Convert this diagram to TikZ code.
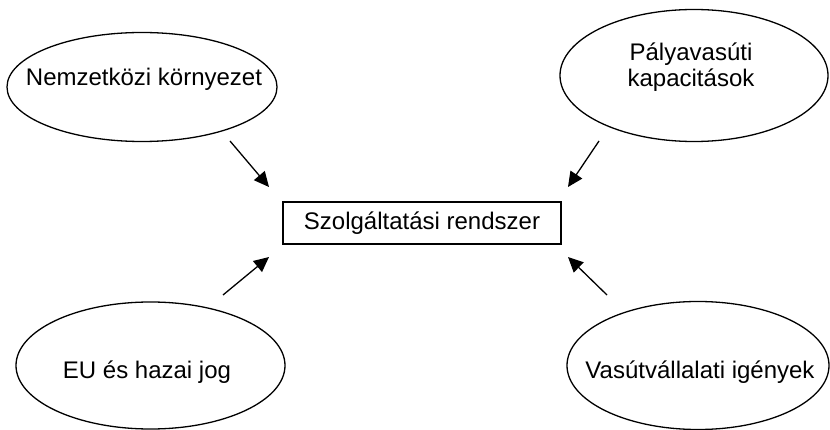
\documentclass[tikz,border=0pt]{standalone}
\usepackage{fontspec}
\setmainfont{Liberation Sans}
\usetikzlibrary{shapes.geometric,arrows.meta}

\begin{document}
\begin{tikzpicture}[x=1pt,y=-1pt,
  factor/.style={draw=black,line width=1.3pt,ellipse,inner sep=0pt},
  lbl/.style={font=\fontsize{24}{26}\selectfont,inner sep=0pt,anchor=base,align=center},
  central/.style={draw=black,line width=2pt,rectangle,inner sep=0pt,
    minimum width=278pt,minimum height=42pt,font=\fontsize{24}{26}\selectfont},
  influence/.style={line width=1.3pt,-{Triangle[length=15pt,width=14pt]}}]
  \useasboundingbox (0,0) rectangle (830,430);

  % outer factors
  \node[factor,minimum width=270pt,minimum height=109pt] (nk) at (142,87) {};
  \node[factor,minimum width=268pt,minimum height=132pt] (pk) at (694,75.5) {};
  \node[factor,minimum width=269pt,minimum height=127pt] (eu) at (150.5,365.5) {};
  \node[factor,minimum width=262pt,minimum height=128pt] (vi) at (698,365.5) {};

  % labels (base anchor of a multi-line label is its last line)
  \node[lbl] (nkt) at (144,86) {Nemzetközi környezet};
  \node[lbl] (pkt) at (691,87) {Pályavasúti\\kapacitások};
  \node[lbl] (eut) at (147,378) {EU és hazai jog};
  \node[lbl] (vit) at (700,378) {Vasútvállalati igények};

  % central system
  \node[central] (sr) at (422,223) {Szolgáltatási rendszer};

  % arrow ends
  \coordinate (a1) at (230,141);  \coordinate (b1) at (269,187);
  \coordinate (a2) at (599,141);  \coordinate (b2) at (568,187);
  \coordinate (a3) at (223,295);  \coordinate (b3) at (269,257);
  \coordinate (a4) at (607,295);  \coordinate (b4) at (568,257);

  \draw[influence] (a1) -- (b1);
  \draw[influence] (a2) -- (b2);
  \draw[influence] (a3) -- (b3);
  \draw[influence] (a4) -- (b4);
\end{tikzpicture}
\end{document}
